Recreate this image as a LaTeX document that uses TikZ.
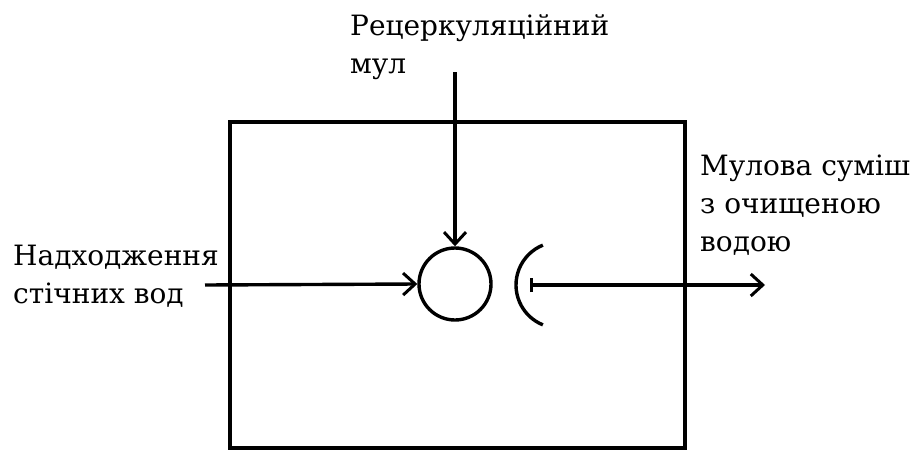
\documentclass[tikz,border=0pt]{standalone}
\usepackage{fontspec}
\newfontfamily\lblfont{DejaVu Serif}
\usetikzlibrary{arrows.meta}
\begin{document}
\begin{tikzpicture}[x=1pt,y=-1pt,
  lbl/.style={anchor=north west,inner sep=0pt,align=left,font=\lblfont\fontsize{28}{38}\selectfont},
  flow/.style={line width=3.4pt,-{Straight Barb[length=12pt,width=22pt,line width=3pt]}},
  thick line/.style={line width=3.4pt}]
\useasboundingbox (0,0) rectangle (915,452);
\node[draw,thick line,minimum width=455,minimum height=326,inner sep=0pt] (box) at (457.5,285) {};
\node[draw,circle,thick line,minimum size=72,inner sep=0pt] (c) at (455,284) {};
\coordinate (top) at (455,72);
\coordinate (in) at (205,285);
\coordinate (s) at (530,285);
\coordinate (e) at (765,285);
\draw[thick line] (559,285) ++(112:43) arc[start angle=112,end angle=248,radius=43];
\draw[flow] (top) -- (c.north);
\draw[flow] (in) -- (c.west);
\draw[line width=3.4pt,{Bar[width=14pt,line width=3pt]}-{Straight Barb[length=12pt,width=22pt,line width=3pt]}] (s) -- (e);
\node[lbl] (t1) at (350,14) {Рецеркуляційний\\мул};
\node[lbl] (t2) at (13,245) {Надходження\\стічних вод};
\node[lbl] (t3) at (700,155) {Мулова суміш\\з очищеною\\водою};
\end{tikzpicture}
\end{document}
